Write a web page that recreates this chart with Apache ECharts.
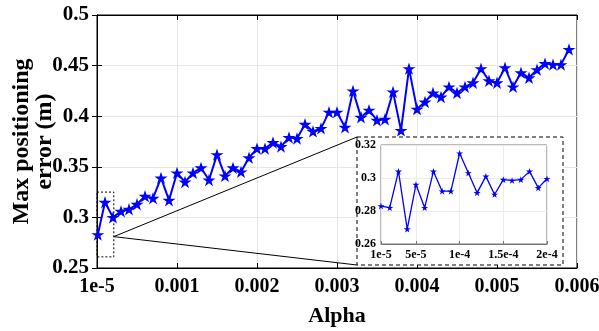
<!DOCTYPE html>
<html>
<head>
<meta charset="utf-8">
<script src="https://cdn.jsdelivr.net/npm/echarts@6/dist/echarts.min.js"></script>
<style>html,body{margin:0;padding:0;background:#fff}#c{width:599px;height:331px}</style>
</head>
<body>
<div id="c"></div>
<script>
// ---- data ----
const alpha = [0.00001, 0.0001, 0.0002, 0.0003, 0.0004, 0.0005, 0.0006, 0.0007, 0.0008, 0.0009,
  0.0010, 0.0011, 0.0012, 0.0013, 0.0014, 0.0015, 0.0016, 0.0017, 0.0018, 0.0019,
  0.0020, 0.0021, 0.0022, 0.0023, 0.0024, 0.0025, 0.0026, 0.0027, 0.0028, 0.0029,
  0.0030, 0.0031, 0.0032, 0.0033, 0.0034, 0.0035, 0.0036, 0.0037, 0.0038, 0.0039,
  0.0040, 0.0041, 0.0042, 0.0043, 0.0044, 0.0045, 0.0046, 0.0047, 0.0048, 0.0049,
  0.0050, 0.0051, 0.0052, 0.0053, 0.0054, 0.0055, 0.0056, 0.0057, 0.0058, 0.0059];
const maxError = [0.283, 0.315, 0.300, 0.306, 0.308, 0.313, 0.321, 0.319, 0.339, 0.317,
  0.344, 0.335, 0.344, 0.349, 0.337, 0.362, 0.341, 0.349, 0.345, 0.359,
  0.368, 0.368, 0.374, 0.370, 0.379, 0.378, 0.392, 0.385, 0.388, 0.404,
  0.404, 0.389, 0.425, 0.399, 0.406, 0.396, 0.397, 0.424, 0.386, 0.447,
  0.407, 0.414, 0.423, 0.419, 0.429, 0.423, 0.429, 0.433, 0.447, 0.435,
  0.433, 0.448, 0.429, 0.443, 0.438, 0.446, 0.452, 0.451, 0.451, 0.466];
const insetAlpha = ['1e-5','2e-5','3e-5','4e-5','5e-5','6e-5','7e-5','8e-5','9e-5','1e-4',
  '1.1e-4','1.2e-4','1.3e-4','1.4e-4','1.5e-4','1.6e-4','1.7e-4','1.8e-4','1.9e-4','2e-4'];
const insetError = [0.283, 0.282, 0.304, 0.269, 0.296, 0.282, 0.304, 0.292, 0.292, 0.315,
  0.303, 0.291, 0.301, 0.290, 0.299, 0.2985, 0.299, 0.304, 0.294, 0.2995];
const insetTickIdx = [0, 4, 9, 14, 19];
const mainXTicks = {0: '1e-5'};
const zoomBox = {x0: 0, x1: 0.00021, y0: 0.261, y1: 0.325, anchorY: 0.281};

const STAR = 'path://M50 0 L61.23 34.55 L97.55 34.55 L68.17 55.9 L79.39 90.45 L50 69.1 L20.61 90.45 L31.83 55.9 L2.45 34.55 L38.77 34.55 Z';
const FONT = 'Liberation Serif';
const blue = '#0000ff';

const chart = echarts.init(document.getElementById('c'), null, {renderer: 'canvas'});

const insetBox = {x: 357, y: 137, w: 206, h: 128};

const option = {
  backgroundColor: '#fff',
  animation: false,
  grid: [
    {left: 97, right: 22, top: 15, bottom: 63, show: true, borderColor: '#000', borderWidth: 1, outerBoundsMode: 'none', containLabel: false},
    {left: 381, right: 52, top: 145, bottom: 87, show: true, borderColor: '#777', borderWidth: 1, backgroundColor: '#fff', z: 5, outerBoundsMode: 'none', containLabel: false}
  ],
  xAxis: [
    {type: 'value', gridIndex: 0, min: 0, max: 0.006, interval: 0.001,
     name: 'Alpha', nameLocation: 'middle', nameGap: 37, nameMoveOverlap: false,
     nameTextStyle: {fontFamily: FONT, fontWeight: 'bold', fontSize: 22, color: '#000'},
     axisLine: {lineStyle: {color: '#000'}},
     axisTick: {inside: true, length: 5, lineStyle: {color: '#000'}},
     axisLabel: {fontFamily: FONT, fontWeight: 'bold', fontSize: 20, color: '#000', margin: 9,
       formatter: v => mainXTicks[v] !== undefined ? mainXTicks[v] : String(+v.toFixed(4))},
     splitLine: {show: true, lineStyle: {color: '#e6e6e6'}}},
    {type: 'value', gridIndex: 0, position: 'top', min: 0, max: 0.006, interval: 0.001,
     axisLine: {lineStyle: {color: '#000'}},
     axisTick: {inside: true, length: 5, lineStyle: {color: '#000'}},
     axisLabel: {show: false}, splitLine: {show: false}},
    {type: 'category', gridIndex: 1, data: insetAlpha, boundaryGap: false, z: 6,
     axisLine: {lineStyle: {color: '#777'}},
     axisTick: {inside: true, length: 3, interval: i => insetTickIdx.includes(i), lineStyle: {color: '#777'}},
     axisLabel: {fontFamily: FONT, fontWeight: 'bold', fontSize: 12, color: '#000', margin: 5,
       interval: i => insetTickIdx.includes(i)},
     splitLine: {show: true, interval: i => insetTickIdx.includes(i), lineStyle: {color: '#ececec'}}}
  ],
  yAxis: [
    {type: 'value', gridIndex: 0, min: 0.25, max: 0.5, interval: 0.05,
     name: 'Max positioning\nerror (m)', nameLocation: 'middle', nameGap: 41, nameMoveOverlap: false,
     nameTextStyle: {fontFamily: FONT, fontWeight: 'bold', fontSize: 24, color: '#000', lineHeight: 23},
     axisLine: {lineStyle: {color: '#000'}},
     axisTick: {inside: true, length: 5, lineStyle: {color: '#000'}},
     axisLabel: {fontFamily: FONT, fontWeight: 'bold', fontSize: 21, color: '#000', margin: 8,
       formatter: v => String(+v.toFixed(2))},
     splitLine: {show: true, lineStyle: {color: '#e6e6e6'}}},
    {type: 'value', gridIndex: 0, position: 'right', min: 0.25, max: 0.5, interval: 0.05,
     axisLine: {lineStyle: {color: '#000'}},
     axisTick: {inside: true, length: 5, lineStyle: {color: '#000'}},
     axisLabel: {show: false}, splitLine: {show: false}},
    {type: 'value', gridIndex: 1, min: 0.26, max: 0.32, interval: 0.02, z: 6,
     axisLine: {lineStyle: {color: '#777'}},
     axisTick: {inside: true, length: 3, lineStyle: {color: '#777'}},
     axisLabel: {fontFamily: FONT, fontWeight: 'bold', fontSize: 12, color: '#000', margin: 5,
       formatter: v => String(+v.toFixed(2))},
     splitLine: {show: true, lineStyle: {color: '#ececec'}}}
  ],
  series: [
    {type: 'line', xAxisIndex: 0, yAxisIndex: 0,
     data: alpha.map((a, i) => [a, maxError[i]]),
     symbol: STAR, symbolSize: 13, symbolKeepAspect: true, showAllSymbol: true,
     lineStyle: {color: blue, width: 2}, itemStyle: {color: blue},
     markArea: {silent: true, itemStyle: {color: 'rgba(0,0,0,0)', borderColor: '#000', borderWidth: 1, borderType: [2, 2]},
       data: [[{coord: [zoomBox.x0, zoomBox.y1]}, {coord: [zoomBox.x1, zoomBox.y0]}]]}},
    {type: 'line', xAxisIndex: 2, yAxisIndex: 2, z: 7,
     data: insetError,
     symbol: STAR, symbolSize: 7, symbolKeepAspect: true, showAllSymbol: true,
     lineStyle: {color: blue, width: 1.3}, itemStyle: {color: blue}}
  ]
};
chart.setOption(option);

const anchor = chart.convertToPixel({gridIndex: 0}, [zoomBox.x1, zoomBox.anchorY]);
chart.setOption({
  graphic: [
    {type: 'rect', z: 1, shape: {x: insetBox.x, y: insetBox.y, width: insetBox.w, height: insetBox.h},
     style: {fill: '#fff', stroke: '#000', lineWidth: 1, lineDash: [4, 3]}},
    {type: 'line', z: 1, shape: {x1: anchor[0], y1: anchor[1], x2: insetBox.x, y2: insetBox.y},
     style: {stroke: '#000', lineWidth: 1}},
    {type: 'line', z: 1, shape: {x1: anchor[0], y1: anchor[1], x2: insetBox.x, y2: insetBox.y + insetBox.h},
     style: {stroke: '#000', lineWidth: 1}}
  ]
});
</script>
</body>
</html>
